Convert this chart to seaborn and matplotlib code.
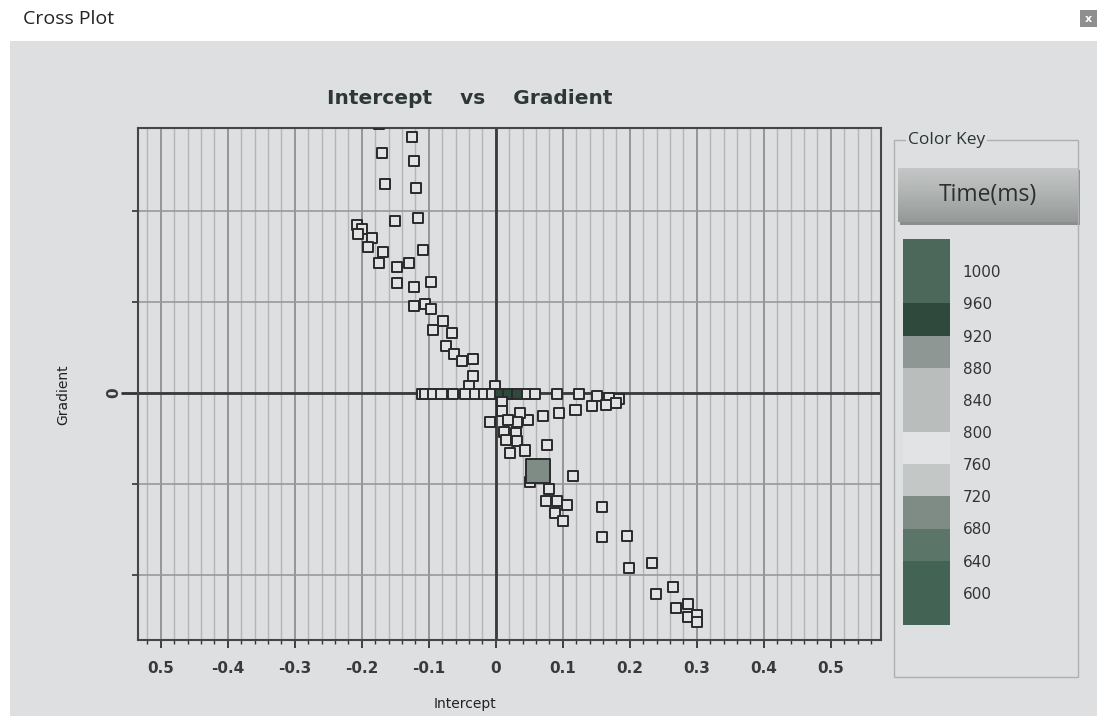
import numpy as np
import pandas as pd
import matplotlib
matplotlib.use("Agg")
import matplotlib.pyplot as plt
import seaborn as sns
from matplotlib.colors import ListedColormap, BoundaryNorm, LinearSegmentedColormap
from matplotlib.ticker import FixedLocator, MultipleLocator
from matplotlib.patches import Rectangle
import matplotlib.cm as cm

# ---------------- data ----------------
intercept = [
    # upper-left branch
    -0.175, -0.125, -0.170, -0.122, -0.166, -0.119, -0.151, -0.116, -0.207, -0.199,
    -0.206, -0.184, -0.191, -0.169, -0.109, -0.175, -0.148, -0.130, -0.148, -0.122,
    -0.097, -0.122, -0.106, -0.096, -0.079, -0.093, -0.066, -0.075, -0.063, -0.051,
    -0.034, -0.034, -0.040, -0.001,
    # horizontal row near zero gradient
    -0.110, -0.106, -0.094, -0.081, -0.064, -0.046, -0.031, -0.018, -0.006, 0.006,
    0.018, 0.031, 0.046, 0.058, 0.091, 0.124, 0.151, 0.169, 0.184,
    # lower-right branch
    0.179, 0.164, 0.143, 0.119, 0.094, 0.070, 0.048, 0.010, 0.010, 0.036,
    0.031, 0.018, -0.009, 0.013, 0.030, 0.016, 0.031, 0.021, 0.043, 0.076,
    0.051, 0.116, 0.079, 0.075, 0.091, 0.107, 0.088, 0.100, 0.158, 0.158,
    0.196, 0.199, 0.233, 0.239, 0.264, 0.269, 0.287, 0.287, 0.300, 0.301,
]
gradient = [
    0.295, 0.281, 0.264, 0.255, 0.229, 0.225, 0.189, 0.192, 0.184, 0.180,
    0.175, 0.170, 0.160, 0.155, 0.157, 0.143, 0.138, 0.143, 0.121, 0.116,
    0.122, 0.096, 0.098, 0.092, 0.079, 0.069, 0.066, 0.052, 0.043, 0.035,
    0.037, 0.019, 0.008, 0.008,
    -0.001, -0.001, -0.001, -0.001, -0.001, -0.001, -0.001, -0.001, -0.001, -0.001,
    -0.001, -0.001, -0.001, -0.001, -0.001, -0.001, -0.003, -0.005, -0.007,
    -0.011, -0.013, -0.014, -0.018, -0.022, -0.025, -0.029, -0.010, -0.020, -0.022,
    -0.032, -0.030, -0.032, -0.043, -0.044, -0.051, -0.053, -0.066, -0.063, -0.057,
    -0.098, -0.091, -0.105, -0.118, -0.118, -0.123, -0.132, -0.140, -0.125, -0.158,
    -0.157, -0.192, -0.186, -0.220, -0.213, -0.236, -0.232, -0.246, -0.244, -0.251,
]
time_ms = [
    780, 780, 780, 780, 780, 780, 780, 780, 780, 780,
    780, 780, 780, 780, 780, 780, 780, 780, 780, 780,
    780, 780, 780, 780, 780, 780, 780, 780, 780, 780,
    780, 780, 780, 780,
    780, 780, 780, 780, 780, 780, 780, 780, 780, 940,
    940, 940, 780, 780, 780, 780, 780, 780, 780,
    780, 780, 780, 780, 780, 780, 780, 780, 780, 780,
    780, 780, 780, 780, 780, 780, 780, 780, 780, 780,
    780, 780, 780, 780, 780, 780, 780, 780, 780, 780,
    780, 780, 780, 780, 780, 780, 780, 780, 780, 780,
]
# the single enlarged (selected) sample
big_intercept = [0.063]
big_gradient = [-0.085]
big_time = [700]

x_ticks = [-0.5, -0.4, -0.3, -0.2, -0.1, 0.0, 0.1, 0.2, 0.3, 0.4, 0.5]
x_tick_labels = ["0.5", "-0.4", "-0.3", "-0.2", "-0.1", "0", "0.1", "0.2", "0.3", "0.4", "0.5"]
y_ticks = [-0.2, -0.1, 0.0, 0.1, 0.2]
y_tick_labels = ["", "", "0", "", ""]

key_bounds = [560, 640, 680, 720, 760, 800, 880, 920, 960, 1040]
key_colors = ["#436355", "#5b7568", "#7f8c86", "#c3c7c5", "#e2e3e4",
              "#b9bdbc", "#8e9793", "#2f4a3d", "#4b685b"]
key_ticks = [600, 640, 680, 720, 760, 800, 840, 880, 920, 960, 1000]

# ---------------- style ----------------
sns.set_style("white")
plt.rcParams["font.family"] = ["DejaVu Sans"]

BG = "#dddfe1"
W, H = 1104, 716
fig = plt.figure(figsize=(W / 100, H / 100), dpi=100)
fig.patch.set_facecolor("white")

def fx(px):
    return px / W

def fy(py):
    return 1 - py / H

# window gray area
fig.patches.append(Rectangle((fx(10), 0), fx(1087), fy(41), transform=fig.transFigure,
                             facecolor=BG, edgecolor="none", zorder=-5))
# header
fig.text(fx(23), fy(19), "Cross Plot", fontsize=14, family="Open Sans",
         color="#222222", va="center", ha="left")
fig.patches.append(Rectangle((fx(1080), fy(27)), fx(17), 17 / H, transform=fig.transFigure,
                             facecolor="#8d8f91", edgecolor="none", zorder=2))
fig.text(fx(1088.5), fy(18.5), "x", fontsize=8, color="white", ha="center", va="center",
         weight="bold")

# ---------------- main axes ----------------
ax = fig.add_axes([fx(138), fy(640), fx(881 - 138), (640 - 128) / H])
ax.set_facecolor(BG)

cmap = ListedColormap(key_colors)
norm = BoundaryNorm(key_bounds, cmap.N)

df = pd.DataFrame({"Intercept": intercept, "Gradient": gradient, "Time": time_ms})
df_big = pd.DataFrame({"Intercept": big_intercept, "Gradient": big_gradient, "Time": big_time})

ax.axvline(0, color="#3a3a3a", lw=2.0, zorder=2)
ax.axhline(0, color="#3a3a3a", lw=2.0, zorder=2)

sns.scatterplot(data=df, x="Intercept", y="Gradient", hue="Time", palette=cmap,
                hue_norm=norm, marker="s", s=52, edgecolor="#2a2a2a", linewidth=1.4,
                legend=False, ax=ax, zorder=3)
sns.scatterplot(data=df_big, x="Intercept", y="Gradient", hue="Time", palette=cmap,
                hue_norm=norm, marker="s", s=290, edgecolor="#2a2a2a", linewidth=1.4,
                legend=False, ax=ax, zorder=4)

ax.set_xlim(-0.534, 0.575)
ax.set_ylim(-0.271, 0.291)

ax.xaxis.set_major_locator(FixedLocator(x_ticks))
ax.set_xticklabels(x_tick_labels)
ax.xaxis.set_minor_locator(MultipleLocator(0.02))
ax.yaxis.set_major_locator(FixedLocator(y_ticks))
ax.set_yticklabels(y_tick_labels)

ax.grid(which="minor", axis="x", color="#b3b5b7", lw=1.0, zorder=0)
ax.grid(which="major", axis="x", color="#8e9092", lw=1.3, zorder=0)
ax.grid(which="major", axis="y", color="#979a9c", lw=1.2, zorder=0)
ax.set_axisbelow(True)

ax.tick_params(axis="x", which="major", direction="out", length=6, width=1.3,
               color="#333333", pad=9, labelsize=11, labelcolor="#3a3a3a", bottom=True)
ax.tick_params(axis="x", which="minor", direction="out", length=3, width=1.0,
               color="#333333", bottom=True)
ax.tick_params(axis="y", which="major", direction="out", length=4, width=1.2,
               color="#333333", pad=8, labelsize=11, labelcolor="#3a3a3a",
               labelrotation=90, left=True)
for lab in ax.get_xticklabels() + ax.get_yticklabels():
    lab.set_fontweight("bold")
for t in ax.yaxis.get_major_ticks():
    if t.label1.get_text() == "0":
        t.tick1line.set_markersize(12)
        t.tick1line.set_markeredgewidth(2.0)

for sp in ax.spines.values():
    sp.set_visible(True)
    sp.set_color("#454545")
    sp.set_linewidth(1.5)

ax.set_xlabel("Intercept", fontsize=10, color="#222222")
ax.set_ylabel("Gradient", fontsize=10, color="#222222")
ax.xaxis.set_label_coords((465 - 138) / 743, (640 - 697) / 512)
ax.yaxis.set_label_coords((70 - 138) / 743, (640 - 395) / 512)

fig.text(fx(470), fy(99), "Intercept    vs    Gradient", fontsize=14.5, weight="bold",
         color="#2b3833", ha="center", va="center")

# ---------------- color key ----------------
fig.patches.append(Rectangle((fx(894), fy(677)), fx(1078 - 894), (677 - 140) / H,
                             transform=fig.transFigure, fill=False, edgecolor="#aeb1b3",
                             lw=1.0, zorder=1))
fig.text(fx(908), fy(140), "Color Key", fontsize=12.5, family="Open Sans",
         color="#2a3530", ha="left", va="center",
         bbox=dict(facecolor=BG, edgecolor="none", pad=1.5))

# button "Time(ms)" with shadow
fig.patches.append(Rectangle((fx(900), fy(225)), fx(180), 55 / H, transform=fig.transFigure,
                             facecolor="#8b8e8d", edgecolor="none", zorder=-1))
bax = fig.add_axes([fx(898), fy(222), fx(180), 54 / H])
bax.set_zorder(2)
grad = np.linspace(0, 1, 64)[:, None]
btn_cmap = LinearSegmentedColormap.from_list("btn", ["#c4c7c6", "#aeb2b0", "#959997"])
bax.imshow(grad, cmap=btn_cmap, aspect="auto", extent=(0, 1, 0, 1), origin="upper")
bax.set_xlim(0, 1)
bax.set_ylim(0, 1)
bax.axis("off")
bax.text(0.5, 0.5, "Time(ms)", fontsize=16.5, family="Open Sans", color="#2e2e2e",
         ha="center", va="center", transform=bax.transAxes, zorder=5)

cax = fig.add_axes([fx(903), fy(625), fx(950 - 903), (625 - 239) / H])
cb = fig.colorbar(cm.ScalarMappable(norm=norm, cmap=cmap), cax=cax, ticks=key_ticks,
                  spacing="proportional")
cb.outline.set_visible(False)
cb.minorticks_off()
cax.tick_params(which="both", length=0, pad=9, labelsize=11, labelcolor="#333333")

fig.savefig("out.png", dpi=100, facecolor=fig.get_facecolor())
